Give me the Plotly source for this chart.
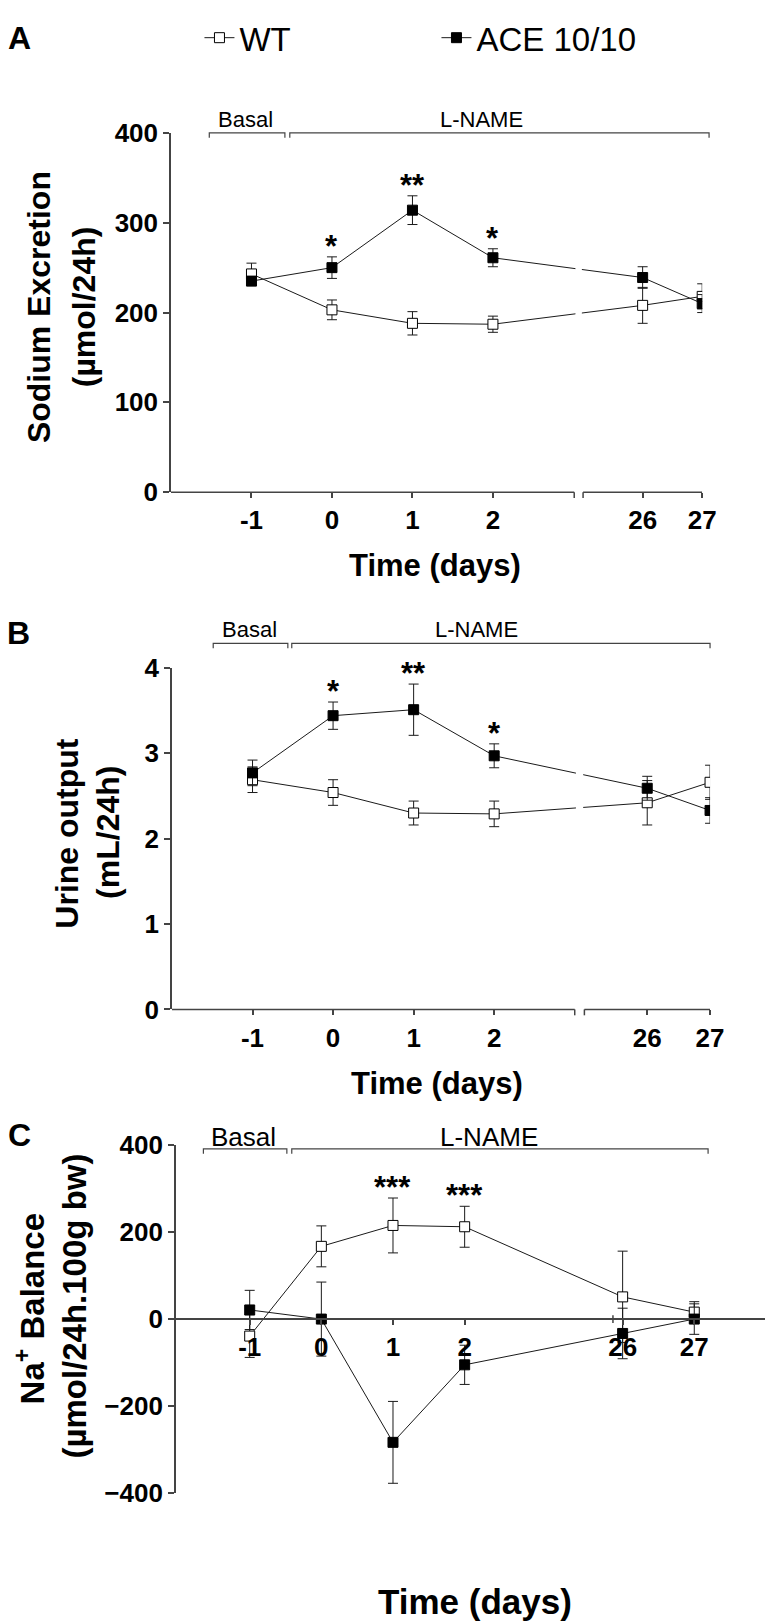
import plotly.graph_objects as go

W, H = 773, 1623

# ---------------- data ----------------
days = [-1, 0, 1, 2, 26, 27]
tick_labels = ['-1', '0', '1', '2', '26', '27']

# Panel A: Sodium excretion (umol/24h)
na_exc_wt = [243, 203, 188, 187, 208, 218]
na_exc_wt_err = [12, 11, 13, 9, 20, 14]
na_exc_ace = [235, 250, 314, 261, 239, 210]
na_exc_ace_err = [5, 12, 16, 10, 12, 10]
sig_a = ['', '*', '**', '*', '', '']

# Panel B: Urine output (mL/24h)
urine_wt = [2.69, 2.54, 2.30, 2.29, 2.42, 2.66]
urine_wt_err = [0.15, 0.15, 0.14, 0.15, 0.26, 0.20]
urine_ace = [2.77, 3.44, 3.51, 2.97, 2.59, 2.33]
urine_ace_err = [0.15, 0.16, 0.30, 0.14, 0.14, 0.15]
sig_b = ['', '*', '**', '*', '', '']

# Panel C: Na+ balance (umol/24h.100g bw)
bal_wt = [-39, 167, 215, 212, 51, 16]
bal_wt_err = [49, 47, 63, 47, 105, 24]
bal_ace = [21, 0, -283, -105, -33, 0]
bal_ace_err = [45, 85, 94, 45, 58, 35]
sig_c = ['', '', '***', '***', '', '']

# ---------------- helpers ----------------
FONT = "Liberation Sans, Arial, Helvetica, sans-serif"
AX = '#444444'


def px(x):
    return x / W


def py(y):
    return 1 - y / H


def xmap(d, start, scale):
    # broken time axis: days 26-27 are drawn right after day 2
    return d if d < 10 else start + (d - 25) * scale


panels = [
    dict(key='', wt=na_exc_wt, wte=na_exc_wt_err, ace=na_exc_ace, acee=na_exc_ace_err, sig=sig_a,
         start=3.12, scale=0.74, xr=[-2.0, 4.6], yr=[0, 400], dt=100,
         xd=[px(166), px(707)], yd=[py(478), py(112)], brk=(3.01, 3.12)),
    dict(key='2', wt=urine_wt, wte=urine_wt_err, ace=urine_ace, acee=urine_ace_err, sig=sig_b,
         start=3.12, scale=0.78, xr=[-2.0, 4.68], yr=[0, 4], dt=1,
         xd=[px(167), px(715)], yd=[py(1005), py(657)], brk=(3.0, 3.12)),
    dict(key='3', wt=bal_wt, wte=bal_wt_err, ace=bal_ace, acee=bal_ace_err, sig=sig_c,
         start=3.205, scale=1.0, xr=[-2.03, 6.22], yr=[-400, 400], dt=200,
         xd=[px(171), 1.0], yd=[py(1498), py(1143)], brk=None),
]

fig = go.Figure()
shapes = []
annotations = []

for i, p in enumerate(panels):
    xa = 'x' + p['key']
    ya = 'y' + p['key']
    xs = [xmap(d, p['start'], p['scale']) for d in days]
    for name, ys, es, fill, show in [('WT', p['wt'], p['wte'], 'white', i == 0),
                                     ('ACE 10/10', p['ace'], p['acee'], 'black', i == 0)]:
        fig.add_trace(go.Scatter(
            x=xs, y=ys, xaxis=xa, yaxis=ya, name=name, showlegend=show,
            mode='lines+markers',
            line=dict(color='#1a1a1a', width=1),
            marker=dict(symbol='square', size=10, color=fill, line=dict(color='black', width=1)),
            error_y=dict(type='data', array=es, visible=True, color='#1a1a1a', thickness=1, width=5),
        ))
    # significance stars
    for xv, a, ae, w, we, s in zip(xs, p['ace'], p['acee'], p['wt'], p['wte'], p['sig']):
        if s:
            top = max(a + ae, w + we)
            annotations.append(dict(x=xv, y=top, xref=xa, yref=ya, text=s, showarrow=False,
                                    yanchor='bottom', yshift=-9,
                                    font=dict(family=FONT, size=31, color='black', weight='bold')))
    xs_ax = 'xaxis' + p['key']
    ys_ax = 'yaxis' + p['key']
    tickfont = dict(family=FONT, size=26, color='black', weight='bold')
    xaxis = dict(domain=p['xd'], range=p['xr'], tickvals=xs, ticktext=tick_labels,
                 ticks='outside', ticklen=5, tickcolor=AX, tickwidth=1.5,
                 showgrid=False, zeroline=False, tickfont=tickfont, fixedrange=True)
    yvals = list(range(p['yr'][0], p['yr'][1] + 1, p['dt']))
    yaxis = dict(domain=p['yd'], range=p['yr'], anchor=xa, tickvals=yvals,
                 ticks='outside', ticklen=6, tickcolor=AX, tickwidth=1.5,
                 showline=True, linecolor=AX, linewidth=1.5,
                 showgrid=False, zeroline=False, tickfont=tickfont, fixedrange=True)
    if p['brk'] is None:
        d0, d1 = p['yd']
        pos = d0 + (0 - p['yr'][0]) / (p['yr'][1] - p['yr'][0]) * (d1 - d0)
        xaxis.update(anchor='free', position=pos, showline=True, linecolor=AX, linewidth=1.5)
        # small break tick on the continuous axis
        shapes.append(dict(type='line', xref=xa, yref='paper', x0=4.07, x1=4.07,
                           y0=pos - 4 / H, y1=pos + 4 / H, line=dict(color=AX, width=1.5)))
    else:
        xaxis.update(anchor=ya, showline=False)
        b0, b1 = p['brk']
        ybot = p['yd'][0]
        # broken x axis line
        shapes.append(dict(type='line', xref=xa, yref='paper', x0=p['xr'][0], x1=b0,
                           y0=ybot, y1=ybot, line=dict(color=AX, width=1.5)))
        shapes.append(dict(type='line', xref=xa, yref='paper', x0=b1, x1=p['xr'][1],
                           y0=ybot, y1=ybot, line=dict(color=AX, width=1.5)))
        for bx in (b0, b1):
            shapes.append(dict(type='line', xref=xa, yref='paper', x0=bx, x1=bx,
                               y0=ybot, y1=ybot - 6 / H, line=dict(color=AX, width=1.5)))
        # gap in connecting lines at the axis break
        shapes.append(dict(type='rect', xref=xa, yref='paper', x0=b0 + 0.015, x1=b1 - 0.015,
                           y0=ybot + 10 / H, y1=p['yd'][1] - 10 / H, fillcolor='white',
                           line=dict(width=0), layer='above'))
    fig.layout[xs_ax] = xaxis
    fig.layout[ys_ax] = yaxis

# ---------------- brackets (Basal / L-NAME) ----------------
brackets = [
    # y, basal x0, x1, lname x0, x1, basal text x, lname text x, text y, font size
    (112, 205, 282, 287, 714, 242, 482, 98, 22),
    (632, 209, 285, 289, 715, 246, 477, 618, 22),
    (1147, 199, 284, 289, 713, 240, 490, 1135, 26),
]
for (by, a0, a1, l0, l1, bt, lt, ty, fs) in brackets:
    for x0, x1 in [(a0, a1), (l0, l1)]:
        shapes.append(dict(type='path', xref='paper', yref='paper',
                           path=f"M {px(x0)} {py(by + 5)} L {px(x0)} {py(by)} L {px(x1)} {py(by)} L {px(x1)} {py(by + 5)}",
                           line=dict(color=AX, width=1.2)))
    annotations.append(dict(x=px(bt), y=py(ty), xref='paper', yref='paper', text='Basal', showarrow=False,
                            xanchor='center', yanchor='middle', font=dict(family=FONT, size=fs, color='black')))
    annotations.append(dict(x=px(lt), y=py(ty), xref='paper', yref='paper', text='L-NAME', showarrow=False,
                            xanchor='center', yanchor='middle', font=dict(family=FONT, size=fs, color='black')))

# ---------------- titles and panel labels ----------------
def txt(x, y, s, size, bold=True, angle=0):
    annotations.append(dict(x=px(x), y=py(y), xref='paper', yref='paper', text=s, showarrow=False,
                            xanchor='center', yanchor='middle', textangle=angle,
                            font=dict(family=FONT, size=size, color='black',
                                      weight='bold' if bold else 'normal')))

txt(12, 15, 'A', 32)
txt(11, 621, 'B', 32)
txt(12, 1133, 'C', 32)

txt(31, 289, 'Sodium Excretion', 32, angle=-90)
txt(77, 289, '(µmol/24h)', 32, angle=-90)
txt(60, 825, 'Urine output', 32, angle=-90)
txt(102, 825, '(mL/24h)', 32, angle=-90)
txt(22, 1310, 'Na<sup>+</sup> Balance', 33, angle=-90)
txt(68, 1307, '(µmol/24h.100g bw)', 33, angle=-90)

txt(435, 553, 'Time (days)', 31)
txt(437, 1080, 'Time (days)', 31)
txt(476, 1608, 'Time (days)', 35)

fig.update_layout(
    width=W, height=H, margin=dict(l=0, r=0, t=0, b=0),
    paper_bgcolor='white', plot_bgcolor='white',
    shapes=shapes, annotations=annotations,
    showlegend=True,
    legend=dict(orientation='h', x=px(195), y=py(15), xanchor='left', yanchor='middle',
                font=dict(family=FONT, size=33, color='black'), entrywidth=192,
                bgcolor='rgba(0,0,0,0)', itemclick=False, itemdoubleclick=False),
)

fig.write_html("out.html")
